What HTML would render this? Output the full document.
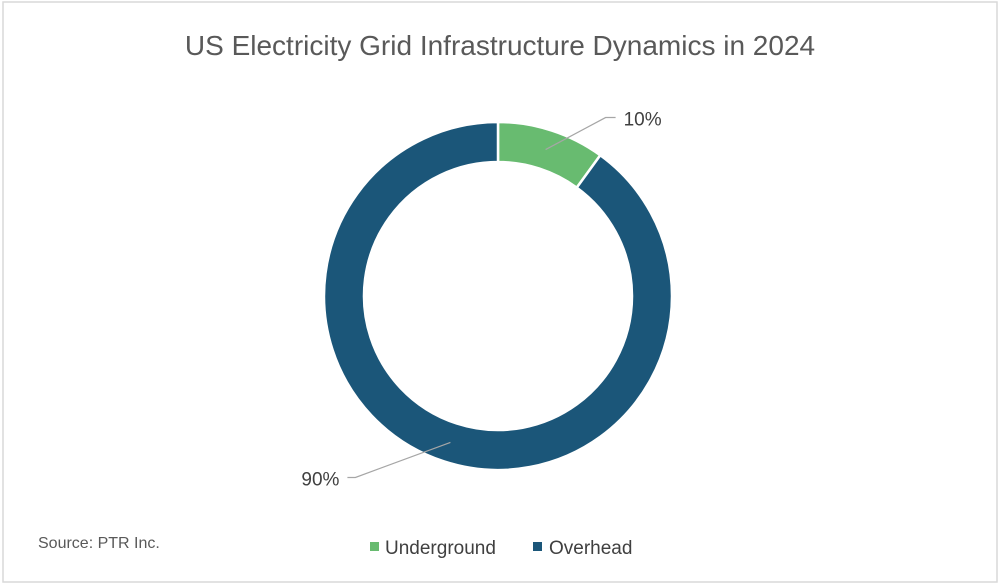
<!DOCTYPE html>
<html><head><meta charset="utf-8"><style>
body{margin:0;background:#fff;}
svg{display:block;font-family:"Liberation Sans",sans-serif;}
</style></head><body>
<svg width="1000" height="586" viewBox="0 0 1000 586">
<rect x="3" y="2" width="994" height="580" fill="#fff" stroke="#d9d9d9" stroke-width="1.5"/>
<text x="500" y="55" text-anchor="middle" font-size="28" fill="#595959">US Electricity Grid Infrastructure Dynamics in 2024</text>
<g id="donut"></g>
<text x="38" y="548" font-size="16" fill="#595959">Source: PTR Inc.</text>
<g>
<rect x="370" y="542" width="9" height="9" fill="#68bb70"/>
<text x="385" y="554" font-size="19" fill="#404040">Underground</text>
<rect x="533" y="542" width="9" height="9" fill="#1b5679"/>
<text x="549" y="554" font-size="19" fill="#404040">Overhead</text>
</g>
</svg>
<script>
const categories=["Underground","Overhead"];
const values=[10,90];
const colors=["#68bb70","#1b5679"];
const cx=498,cy=296,R=174,r=134;
const g=document.getElementById('donut');
const ns="http://www.w3.org/2000/svg";
const total=values.reduce((a,b)=>a+b,0);
let a0=0;
function pt(rad,ang){return [cx+rad*Math.sin(ang),cy-rad*Math.cos(ang)];}
values.forEach((v,i)=>{
  const a1=a0+v/total*2*Math.PI;
  const large=(a1-a0)>Math.PI?1:0;
  const p1=pt(R,a0),p2=pt(R,a1),p3=pt(r,a1),p4=pt(r,a0);
  const path=document.createElementNS(ns,'path');
  path.setAttribute('d',`M${p1[0]},${p1[1]} A${R},${R} 0 ${large} 1 ${p2[0]},${p2[1]} L${p3[0]},${p3[1]} A${r},${r} 0 ${large} 0 ${p4[0]},${p4[1]} Z`);
  path.setAttribute('fill',colors[i]);
  path.setAttribute('stroke','#fff');
  path.setAttribute('stroke-width','2.5');
  
  
  g.appendChild(path);
  const mid=(a0+a1)/2;
  const s=pt((R+r)/2,mid);
  const right=Math.sin(mid)>=0;
  const e=pt(R+(right?30:20),mid+(right?0.12:0.1));
  const ex=right?Math.max(e[0],s[0]+60):Math.min(e[0],s[0]-95);
  const ey=right?s[1]-32:s[1]+35;
  const ln=document.createElementNS(ns,'polyline');
  ln.setAttribute('points',`${s[0]},${s[1]} ${ex},${ey} ${ex+(right?10:-8)},${ey}`);
  ln.setAttribute('fill','none');
  ln.setAttribute('stroke','#a6a6a6');
  ln.setAttribute('stroke-width','1.2');
  
  
  g.appendChild(ln);
  const t=document.createElementNS(ns,'text');
  t.setAttribute('x',right?ex+18:ex-16);
  t.setAttribute('y',ey+8);
  t.setAttribute('text-anchor',right?'start':'end');
  t.setAttribute('font-size','19');
  t.setAttribute('fill','#404040');
  
  
  t.textContent=Math.round(v/total*100)+'%';
  g.appendChild(t);
  a0=a1;
});
</script>
</body></html>
